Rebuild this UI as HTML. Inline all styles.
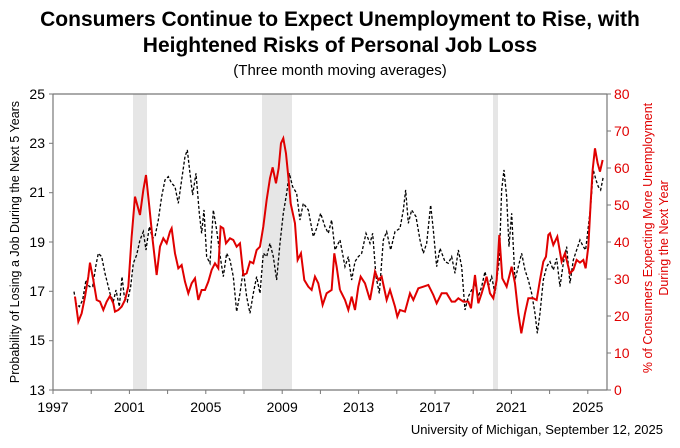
<!DOCTYPE html>
<html><head><meta charset="utf-8"><style>
body{margin:0;background:#fff;}
svg text{font-family:"Liberation Sans",Arial,sans-serif;}
</style></head><body>
<svg width="680" height="443" xmlns="http://www.w3.org/2000/svg">
<rect width="680" height="443" fill="#fff"/>
<text x="340" y="26" text-anchor="middle" font-size="21" font-weight="bold">Consumers Continue to Expect Unemployment to Rise, with</text>
<text x="340" y="52" text-anchor="middle" font-size="21" font-weight="bold">Heightened Risks of Personal Job Loss</text>
<text x="340" y="75" text-anchor="middle" font-size="15">(Three month moving averages)</text>
<rect x="133" y="94" width="14" height="296" fill="#e6e6e6"/>
<rect x="262" y="94" width="30" height="296" fill="#e6e6e6"/>
<rect x="493" y="94" width="5" height="296" fill="#e6e6e6"/>
<line x1="53" y1="94" x2="607" y2="94" stroke="#777" stroke-width="1.2"/>
<line x1="53" y1="94" x2="53" y2="390" stroke="#777" stroke-width="1.2"/>
<line x1="607" y1="94" x2="607" y2="390" stroke="#777" stroke-width="1.2"/>
<line x1="53" y1="390" x2="607" y2="390" stroke="#777" stroke-width="1.2"/>
<g stroke="#777" stroke-width="1">
<line x1="49" y1="94" x2="53" y2="94"/><line x1="49" y1="143.3" x2="53" y2="143.3"/><line x1="49" y1="192.7" x2="53" y2="192.7"/><line x1="49" y1="242" x2="53" y2="242"/><line x1="49" y1="291.3" x2="53" y2="291.3"/><line x1="49" y1="340.7" x2="53" y2="340.7"/><line x1="49" y1="390" x2="53" y2="390"/>
<line x1="607" y1="94" x2="611" y2="94"/><line x1="607" y1="131" x2="611" y2="131"/><line x1="607" y1="168" x2="611" y2="168"/><line x1="607" y1="205" x2="611" y2="205"/><line x1="607" y1="242" x2="611" y2="242"/><line x1="607" y1="279" x2="611" y2="279"/><line x1="607" y1="316" x2="611" y2="316"/><line x1="607" y1="353" x2="611" y2="353"/><line x1="607" y1="390" x2="611" y2="390"/>
<line x1="53" y1="390" x2="53" y2="394"/><line x1="91.2" y1="390" x2="91.2" y2="394"/><line x1="129.4" y1="390" x2="129.4" y2="394"/><line x1="167.6" y1="390" x2="167.6" y2="394"/><line x1="205.8" y1="390" x2="205.8" y2="394"/><line x1="244" y1="390" x2="244" y2="394"/><line x1="282.2" y1="390" x2="282.2" y2="394"/><line x1="320.4" y1="390" x2="320.4" y2="394"/><line x1="358.6" y1="390" x2="358.6" y2="394"/><line x1="396.8" y1="390" x2="396.8" y2="394"/><line x1="435" y1="390" x2="435" y2="394"/><line x1="473.2" y1="390" x2="473.2" y2="394"/><line x1="511.4" y1="390" x2="511.4" y2="394"/><line x1="549.6" y1="390" x2="549.6" y2="394"/><line x1="587.8" y1="390" x2="587.8" y2="394"/>
</g>
<g font-size="14" text-anchor="end">
<text x="45" y="99">25</text><text x="45" y="148">23</text><text x="45" y="197">21</text><text x="45" y="247">19</text><text x="45" y="296">17</text><text x="45" y="345">15</text><text x="45" y="395">13</text>
</g>
<g font-size="14" fill="#e00000" text-anchor="start">
<text x="614" y="99">80</text><text x="614" y="136">70</text><text x="614" y="173">60</text><text x="614" y="210">50</text><text x="614" y="247">40</text><text x="614" y="284">30</text><text x="614" y="321">20</text><text x="614" y="358">10</text><text x="614" y="395">0</text>
</g>
<g font-size="14" text-anchor="middle">
<text x="53" y="412">1997</text><text x="129.4" y="412">2001</text><text x="205.8" y="412">2005</text><text x="282.2" y="412">2009</text><text x="358.6" y="412">2013</text><text x="435" y="412">2017</text><text x="511.4" y="412">2021</text><text x="587.8" y="412">2025</text>
</g>
<text transform="translate(19,242) rotate(-90)" text-anchor="middle" font-size="12.5">Probability of Losing a Job During the Next 5 Years</text>
<text transform="translate(652,238) rotate(-90)" text-anchor="middle" font-size="12.5" fill="#e00000">% of Consumers Expecting More Unemployment</text>
<text transform="translate(668,238) rotate(-90)" text-anchor="middle" font-size="12.5" fill="#e00000">During the Next Year</text>
<text x="663" y="434" text-anchor="end" font-size="13">University of Michigan, September 12, 2025</text>
<g transform="translate(0,80) scale(0.3333)">
<polyline fill="none" stroke="#000" stroke-width="1.3" stroke-dasharray="3,2" vector-effect="non-scaling-stroke" points="222,635 228,670 238,680 248,660 258,600 268,620 278,620 288,555 295,520 305,530 315,580 320,600 330,640 340,665 348,630 358,680 366,590 373,650 382,665 392,620 400,550 410,525 420,480 430,455 438,510 448,440 458,475 465,470 475,420 485,350 495,300 505,290 515,310 525,320 535,370 545,300 555,230 562,210 570,280 578,345 588,280 598,400 605,460 612,390 620,530 630,550 640,390 650,450 660,525 670,590 680,520 690,540 700,590 710,695 720,640 730,570 740,650 750,700 760,640 770,590 780,640 790,520 800,530 810,490 820,530 830,600 840,490 850,400 860,340 868,280 878,320 890,340 900,420 910,370 925,390 940,470 950,445 962,400 975,440 985,460 995,420 1005,510 1020,480"/>
<polyline fill="none" stroke="#e00000" stroke-width="2" vector-effect="non-scaling-stroke" points="225,650 235,725 245,700 255,650 265,590 270,548 280,600 290,660 300,665 310,690 320,665 330,648 340,670 345,695 355,690 365,680 375,660 385,620 395,470 405,350 420,405 430,330 438,285 448,380 458,480 470,585 480,500 490,475 500,490 510,455 515,445 525,520 535,565 545,555 555,605 565,640 575,610 585,595 595,660 605,630 615,630 625,605 635,570 645,550 655,565 662,440 670,445 678,490 690,475 700,480 710,500 720,490 730,585 740,580 750,545 760,550 770,510 780,500 790,440 800,360 810,295 818,262 828,310 836,265 843,190 850,175 858,220 866,300 872,370 885,430 893,540 903,520 913,600 925,620 935,630 945,590 955,610 968,675 980,640 995,630 1003,520 1010,560 1020,630"/>
</g>
<g transform="translate(340,80) scale(0.3333)">
<polyline fill="none" stroke="#000" stroke-width="1.3" stroke-dasharray="3,2" vector-effect="non-scaling-stroke" points="0,480 15,560 25,530 35,600 45,545 55,530 65,520 78,460 90,490 98,460 108,590 118,640 130,480 140,455 152,510 165,455 180,445 190,390 197,330 205,430 215,390 228,410 240,480 250,520 260,490 272,375 280,450 290,560 300,505 315,545 325,550 335,530 345,580 355,510 365,560 375,690 385,650 395,630 405,610 415,650 425,620 435,575 445,620 455,590 465,640 478,540 485,330 492,270 500,350 507,500 515,400 525,600 535,560 545,520 555,570 565,600 575,640 585,700 592,760 600,700 610,600 620,560 630,545 640,570 650,535 660,620 670,550 680,500 690,610 700,540 710,510 720,480 730,500 737,510 745,440 752,380 760,270 768,300 775,320 782,330 790,290"/>
<polyline fill="none" stroke="#e00000" stroke-width="2" vector-effect="non-scaling-stroke" points="0,630 15,660 25,690 35,650 45,690 55,620 62,590 75,610 90,660 105,575 115,600 125,590 140,660 150,630 165,680 172,710 180,690 195,695 210,640 220,660 235,625 250,620 265,615 280,645 290,670 305,640 320,640 335,665 345,665 355,655 370,665 385,665 393,685 405,585 415,670 425,640 440,590 450,640 460,655 470,600 478,465 487,595 500,620 515,560 525,610 535,700 544,760 555,700 565,655 580,655 590,660 600,600 610,545 618,530 625,465 630,460 640,495 652,470 665,545 675,520 690,580 700,570 710,540 720,548 730,540 737,565 745,500 752,370 758,270 765,205 773,250 780,275 788,240"/>
</g>
</svg>
</body></html>
